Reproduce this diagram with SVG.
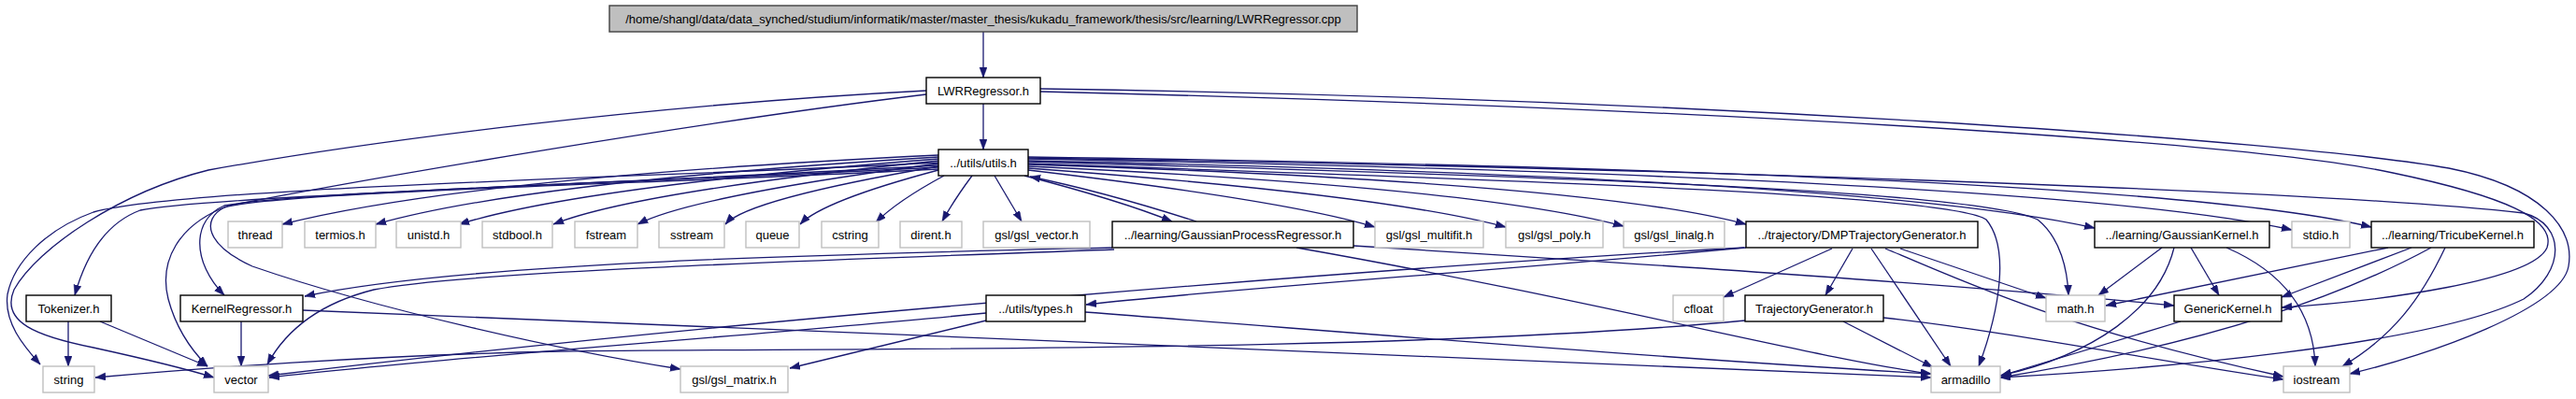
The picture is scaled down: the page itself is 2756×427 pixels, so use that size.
<svg xmlns="http://www.w3.org/2000/svg" width="2756" height="427" viewBox="0 0 2756 427">
<style>
text{font-family:"Liberation Sans",Arial,sans-serif;font-size:13px;fill:#000;text-anchor:middle}
.p rect{fill:#fff;stroke:#000;stroke-width:1.4}
.s rect{fill:#fff;stroke:#bfbfbf;stroke-width:1.4}
.r rect{fill:#bfbfbf;stroke:#404040;stroke-width:1.4}
#edges path{fill:none;stroke:#191970;stroke-width:1.3;marker-end:url(#ah)}
</style>
<defs>
<marker id="ah" markerUnits="userSpaceOnUse" markerWidth="12" markerHeight="9" refX="11" refY="4" orient="auto">
<path d="M0,0 L11,4 L0,8 z" fill="#191970" stroke="#191970" stroke-width="0.5"/>
</marker>
</defs>
<rect width="2756" height="427" fill="#fff"/>
<g id="edges">
<path d="M1052,34 L1052,83"/>
<path d="M1052,111 L1052,160"/>
<path d="M1004,166 Q500,190 302,240"/>
<path d="M1004,168 Q560,195 402,240"/>
<path d="M1004,170 Q620,200 491,240"/>
<path d="M1004,172 Q680,205 592,240"/>
<path d="M1004,175 Q740,210 682,240"/>
<path d="M1004,178 Q800,213 776,240"/>
<path d="M1004,182 Q880,215 856,240"/>
<path d="M1010,188 Q960,215 937,238"/>
<path d="M1040,188 Q1020,215 1008,237"/>
<path d="M1064,188 Q1080,215 1093,237"/>
<path d="M1096,188 Q1200,215 1254,237"/>
<path d="M1280,237 Q1180,205 1102,189"/>
<path d="M1100,182 Q1380,215 1471,243"/>
<path d="M1100,180 Q1480,208 1611,243"/>
<path d="M1100,178 Q1580,200 1737,242"/>
<path d="M1100,176 Q1700,195 1868,240"/>
<path d="M1100,172 Q2000,190 2241,244"/>
<path d="M1100,170 Q2200,190 2452,246"/>
<path d="M1100,168 Q2300,185 2537,243"/>
<path d="M1100,173 C1700,190 2120,205 2180,235 C2205,255 2212,290 2213,316"/>
<path d="M1100,175 C1700,195 2090,210 2125,235 C2150,265 2140,330 2117,392"/>
<path d="M1100,169 C1800,180 2500,205 2700,228 C2745,240 2745,290 2700,320 C2600,370 2300,395 2140,404"/>
<path d="M1113,98 C1800,115 2400,150 2560,185 C2680,210 2735,235 2725,265 C2710,300 2550,322 2441,329"/>
<path d="M1113,95 C1800,105 2450,150 2620,180 C2720,200 2755,245 2748,285 C2740,330 2600,380 2514,400"/>
<path d="M991,97 C700,112 400,150 223,182 C130,205 40,265 15,310 C0,345 40,360 100,372 C150,383 200,395 229,404"/>
<path d="M991,101 C750,130 400,190 245,220 C190,240 170,280 180,320 C188,350 205,375 222,392"/>
<path d="M1004,174 C700,190 200,200 100,227 C50,245 15,280 8,315 C4,345 25,370 43,390"/>
<path d="M1004,177 C700,195 220,210 150,225 C110,240 90,280 80,316"/>
<path d="M1004,179 C700,195 320,205 240,220 C205,235 205,280 240,316"/>
<path d="M1004,181 C700,197 300,205 240,222 C215,235 220,262 270,285 C400,330 600,375 728,395"/>
<path d="M1190,265 C900,272 500,280 326,317"/>
<path d="M1192,267 C900,278 500,290 400,310 C340,325 305,355 286,390"/>
<path d="M1387,265 C1700,320 1950,385 2066,400"/>
<path d="M1448,263 C1800,285 2100,305 2326,327"/>
<path d="M1868,265 C1600,290 1300,310 1162,326"/>
<path d="M1866,265 C1500,285 800,340 287,402"/>
<path d="M1960,266 L1844,318"/>
<path d="M1982,266 L1953,316"/>
<path d="M2002,266 L2087,392"/>
<path d="M2017,266 C2100,300 2200,350 2443,403"/>
<path d="M2033,266 L2189,319"/>
<path d="M1867,343 C1500,378 900,372 600,376 C400,380 200,395 102,404"/>
<path d="M1972,344 L2068,393"/>
<path d="M2015,340 C2150,355 2300,385 2443,406"/>
<path d="M1055,335 C800,360 500,380 288,404"/>
<path d="M1055,343 L845,394"/>
<path d="M1161,334 C1500,360 1800,385 2066,400"/>
<path d="M324,332 C900,355 1600,385 2066,404"/>
<path d="M73,344 L73,392"/>
<path d="M107,344 L222,392"/>
<path d="M258,344 L258,392"/>
<path d="M2313,265 L2245,316"/>
<path d="M2326,265 C2310,330 2240,380 2140,402"/>
<path d="M2344,265 L2374,316"/>
<path d="M2382,265 C2440,290 2475,330 2477,392"/>
<path d="M2555,265 L2253,327"/>
<path d="M2580,265 L2441,318"/>
<path d="M2601,265 C2500,320 2350,370 2140,404"/>
<path d="M2616,265 C2590,320 2560,360 2506,392"/>
<path d="M2333,344 L2141,402"/>
</g>
<g id="n_root" class="r"><rect x="652" y="6" width="800" height="28"/><text x="1052" y="24.5">/home/shangl/data/data_synched/studium/informatik/master/master_thesis/kukadu_framework/thesis/src/learning/LWRRegressor.cpp</text></g>
<g id="n_lwr" class="p"><rect x="991" y="83" width="122" height="28"/><text x="1052" y="101.5">LWRRegressor.h</text></g>
<g id="n_utils" class="p"><rect x="1004" y="160" width="96" height="28"/><text x="1052" y="178.5">../utils/utils.h</text></g>
<g id="n_thread" class="s"><rect x="244" y="237" width="58" height="28"/><text x="273" y="255.5">thread</text></g>
<g id="n_termios" class="s"><rect x="326" y="237" width="76" height="28"/><text x="364" y="255.5">termios.h</text></g>
<g id="n_unistd" class="s"><rect x="424" y="237" width="69" height="28"/><text x="458.5" y="255.5">unistd.h</text></g>
<g id="n_stdbool" class="s"><rect x="516" y="237" width="75" height="28"/><text x="553.5" y="255.5">stdbool.h</text></g>
<g id="n_fstream" class="s"><rect x="615" y="237" width="67" height="28"/><text x="648.5" y="255.5">fstream</text></g>
<g id="n_sstream" class="s"><rect x="705" y="237" width="70" height="28"/><text x="740" y="255.5">sstream</text></g>
<g id="n_queue" class="s"><rect x="798" y="237" width="57" height="28"/><text x="826.5" y="255.5">queue</text></g>
<g id="n_cstring" class="s"><rect x="879" y="237" width="61" height="28"/><text x="909.5" y="255.5">cstring</text></g>
<g id="n_dirent" class="s"><rect x="963" y="237" width="66" height="28"/><text x="996" y="255.5">dirent.h</text></g>
<g id="n_gslvector" class="s"><rect x="1052" y="237" width="114" height="28"/><text x="1109" y="255.5">gsl/gsl_vector.h</text></g>
<g id="n_gpr" class="p"><rect x="1190" y="237" width="258" height="28"/><text x="1319" y="255.5">../learning/GaussianProcessRegressor.h</text></g>
<g id="n_multifit" class="s"><rect x="1471" y="237" width="116" height="28"/><text x="1529" y="255.5">gsl/gsl_multifit.h</text></g>
<g id="n_poly" class="s"><rect x="1611" y="237" width="104" height="28"/><text x="1663" y="255.5">gsl/gsl_poly.h</text></g>
<g id="n_linalg" class="s"><rect x="1737" y="237" width="108" height="28"/><text x="1791" y="255.5">gsl/gsl_linalg.h</text></g>
<g id="n_dmp" class="p"><rect x="1868" y="237" width="248" height="28"/><text x="1992" y="255.5">../trajectory/DMPTrajectoryGenerator.h</text></g>
<g id="n_gauss" class="p"><rect x="2241" y="237" width="187" height="28"/><text x="2334.5" y="255.5">../learning/GaussianKernel.h</text></g>
<g id="n_stdio" class="s"><rect x="2452" y="237" width="62" height="28"/><text x="2483" y="255.5">stdio.h</text></g>
<g id="n_tricube" class="p"><rect x="2537" y="237" width="174" height="28"/><text x="2624" y="255.5">../learning/TricubeKernel.h</text></g>
<g id="n_tokenizer" class="p"><rect x="28" y="316" width="91" height="28"/><text x="73.5" y="334.5">Tokenizer.h</text></g>
<g id="n_kernelreg" class="p"><rect x="193" y="316" width="131" height="28"/><text x="258.5" y="334.5">KernelRegressor.h</text></g>
<g id="n_types" class="p"><rect x="1055" y="316" width="106" height="28"/><text x="1108" y="334.5">../utils/types.h</text></g>
<g id="n_cfloat" class="s"><rect x="1790" y="316" width="54" height="28"/><text x="1817" y="334.5">cfloat</text></g>
<g id="n_trajgen" class="p"><rect x="1867" y="316" width="148" height="28"/><text x="1941" y="334.5">TrajectoryGenerator.h</text></g>
<g id="n_math" class="s"><rect x="2189" y="316" width="63" height="28"/><text x="2220.5" y="334.5">math.h</text></g>
<g id="n_generic" class="p"><rect x="2326" y="316" width="115" height="28"/><text x="2383.5" y="334.5">GenericKernel.h</text></g>
<g id="n_string" class="s"><rect x="46" y="392" width="55" height="28"/><text x="73.5" y="410.5">string</text></g>
<g id="n_vector" class="s"><rect x="229" y="392" width="58" height="28"/><text x="258" y="410.5">vector</text></g>
<g id="n_gslmatrix" class="s"><rect x="728" y="392" width="115" height="28"/><text x="785.5" y="410.5">gsl/gsl_matrix.h</text></g>
<g id="n_armadillo" class="s"><rect x="2066" y="392" width="74" height="28"/><text x="2103" y="410.5">armadillo</text></g>
<g id="n_iostream" class="s"><rect x="2443" y="392" width="71" height="28"/><text x="2478.5" y="410.5">iostream</text></g>
</svg>
